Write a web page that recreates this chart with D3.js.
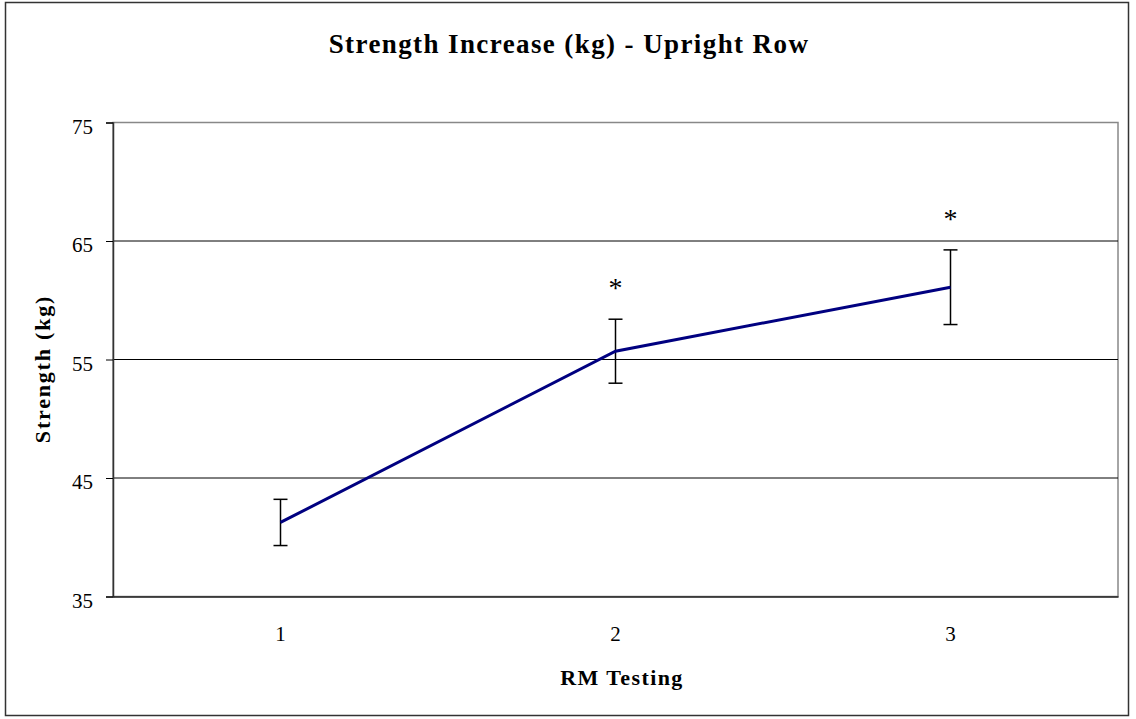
<!DOCTYPE html>
<html lang="en">
<head>
<meta charset="utf-8">
<title>Strength Increase (kg) - Upright Row</title>
<script src="https://cdn.jsdelivr.net/npm/d3@7"></script>
<style>
  body { margin: 0; background: #fff; }
  text { font-family: "Liberation Serif", "DejaVu Serif", serif; fill: #000; }
</style>
</head>
<body>
<svg id="chart" width="1136" height="719"></svg>
<script>
// chart data
var tests = ["1", "2", "3"];
var strength = [41.25, 55.7, 61.1];
var errors = [1.95, 2.7, 3.15];
var significant = [false, true, true];
var yTicks = [35, 45, 55, 65, 75];

var svg = d3.select("#chart");
// plot area (note: "top" is taken by window.top)
var plotL = 113, plotR = 1118, plotT = 122.5, plotB = 596.5;

// outer frame
svg.append("rect")
  .attr("x", 5.5).attr("y", 2.5)
  .attr("width", 1123).attr("height", 713)
  .attr("fill", "none").attr("stroke", "#333").attr("stroke-width", 1.5);

var x = d3.scaleBand().domain(tests).range([plotL, plotR]);
var y = d3.scaleLinear().domain([35, 75]).range([plotB, plotT]);

// plot area border (grey)
svg.append("rect")
  .attr("x", plotL).attr("y", plotT)
  .attr("width", plotR - plotL).attr("height", plotB - plotT)
  .attr("fill", "none").attr("stroke", "#888").attr("stroke-width", 1.5);

// gridlines
svg.append("g").selectAll("line")
  .data(yTicks.slice(1, -1))
  .enter().append("line")
  .attr("x1", plotL).attr("x2", plotR)
  .attr("y1", function(d) { return y(d); })
  .attr("y2", function(d) { return y(d); })
  .attr("stroke", "#000").attr("stroke-width", 1);

// y axis
var yAxis = svg.append("g")
  .attr("transform", "translate(" + plotL + ",0)")
  .call(d3.axisLeft(y).tickValues(yTicks).tickSize(7).tickPadding(13));
yAxis.select(".domain").attr("stroke", "#333").attr("stroke-width", 1.5);
yAxis.selectAll(".tick line").attr("stroke", "#000");
yAxis.selectAll("text").style("font-size", "21px").attr("dy", "0.52em")
  .style("font-family", "'Liberation Serif', serif").attr("fill", "#222");

// x axis
var xAxis = svg.append("g")
  .attr("transform", "translate(0," + plotB + ")")
  .call(d3.axisBottom(x).tickSize(0).tickPadding(30));
xAxis.select(".domain").attr("stroke", "#222").attr("stroke-width", 1.5);
xAxis.selectAll("text").style("font-size", "21px")
  .style("font-family", "'Liberation Serif', serif").attr("fill", "#222");

function cx(i) { return x(tests[i]) + x.bandwidth() / 2; }

// error bars
var eb = svg.append("g").selectAll("g")
  .data(strength).enter().append("g");
eb.append("line")
  .attr("x1", function(d, i) { return cx(i); })
  .attr("x2", function(d, i) { return cx(i); })
  .attr("y1", function(d, i) { return y(d + errors[i]); })
  .attr("y2", function(d, i) { return y(d - errors[i]); })
  .attr("stroke", "#000").attr("stroke-width", 1.5);
eb.append("line")
  .attr("x1", function(d, i) { return cx(i) - 7; })
  .attr("x2", function(d, i) { return cx(i) + 7; })
  .attr("y1", function(d, i) { return y(d + errors[i]); })
  .attr("y2", function(d, i) { return y(d + errors[i]); })
  .attr("stroke", "#000").attr("stroke-width", 1.5);
eb.append("line")
  .attr("x1", function(d, i) { return cx(i) - 7; })
  .attr("x2", function(d, i) { return cx(i) + 7; })
  .attr("y1", function(d, i) { return y(d - errors[i]); })
  .attr("y2", function(d, i) { return y(d - errors[i]); })
  .attr("stroke", "#000").attr("stroke-width", 1.5);

// line
var line = d3.line()
  .x(function(d, i) { return cx(i); })
  .y(function(d) { return y(d); });
svg.append("path")
  .datum(strength)
  .attr("d", line)
  .attr("fill", "none")
  .attr("stroke", "#000080")
  .attr("stroke-width", 3);

// significance markers
eb.filter(function(d, i) { return significant[i]; })
  .append("text")
  .attr("x", function(d) { return cx(strength.indexOf(d)); })
  .attr("y", function(d) { return y(d + errors[strength.indexOf(d)]) - 22; })
  .attr("text-anchor", "middle")
  .style("font-size", "28px")
  .text("*");

// title + axis labels
svg.append("text")
  .attr("x", 569).attr("y", 53)
  .attr("text-anchor", "middle")
  .style("font-size", "27px").style("font-weight", "bold")
  .style("letter-spacing", "1.4px")
  .text("Strength Increase (kg) - Upright Row");

svg.append("text")
  .attr("x", 622).attr("y", 685)
  .attr("text-anchor", "middle")
  .style("font-size", "22px").style("font-weight", "bold")
  .style("letter-spacing", "1.4px")
  .text("RM Testing");

svg.append("text")
  .attr("transform", "translate(50,369) rotate(-90)")
  .attr("text-anchor", "middle")
  .style("font-size", "22px").style("font-weight", "bold")
  .style("letter-spacing", "1.8px")
  .text("Strength (kg)");
</script>
</body>
</html>
